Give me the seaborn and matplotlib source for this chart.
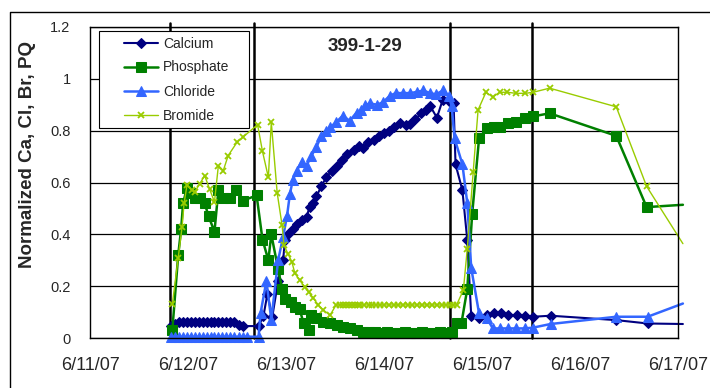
import matplotlib
matplotlib.use("Agg")
import matplotlib.pyplot as plt
import seaborn as sns
import pandas as pd
from matplotlib.lines import Line2D
from matplotlib.patches import Rectangle

# ---- data (days since 6/11/07 00:00, normalized values) ----
ca_t = [0.83,0.87,0.91,0.95,0.99,1.03,1.07,1.11,1.15,1.19,1.23,1.27,1.31,1.35,1.39,1.43,1.47,1.52,1.56,1.72,
        1.77,1.81,1.86,1.92,1.97,1.99,2.02,2.07,2.11,2.16,2.21,2.24,2.28,2.31,2.36,2.41,2.47,2.52,2.57,2.62,
        2.69,2.74,2.79,2.84,2.90,2.95,3.00,3.05,3.10,3.16,3.22,3.27,3.32,3.38,3.43,3.47,3.54,3.60,3.66,3.71,
        3.73,3.80,3.85,3.89,3.97,4.05,4.12,4.19,4.27,4.36,4.44,4.52,4.70,5.37,5.69,6.05]
ca_v = [0.047,0.055,0.062,0.063,0.062,0.063,0.062,0.063,0.062,0.063,0.062,0.063,0.062,0.063,0.062,0.063,0.060,0.052,0.046,0.046,
        0.085,0.17,0.082,0.22,0.30,0.377,0.40,0.42,0.44,0.456,0.467,0.505,0.52,0.546,0.585,0.62,0.646,0.665,0.685,0.71,
        0.725,0.74,0.735,0.755,0.765,0.78,0.79,0.80,0.815,0.83,0.82,0.826,0.845,0.867,0.88,0.896,0.85,0.92,0.915,0.905,
        0.67,0.57,0.377,0.085,0.076,0.088,0.097,0.095,0.088,0.088,0.085,0.082,0.086,0.069,0.056,0.054]

ph_t = [0.84,0.90,0.93,0.95,0.99,1.02,1.07,1.12,1.17,1.21,1.27,1.31,1.36,1.43,1.49,1.56,1.70,1.76,1.82,1.85,
        1.92,1.96,1.99,2.05,2.09,2.14,2.18,2.23,2.26,2.31,2.38,2.45,2.52,2.58,2.65,2.72,2.79,2.85,2.91,2.97,
        3.03,3.09,3.15,3.21,3.27,3.33,3.39,3.45,3.51,3.57,3.63,3.69,3.74,3.79,3.85,3.90,3.97,4.05,4.12,4.18,
        4.27,4.35,4.44,4.52,4.69,5.37,5.68,6.05]
ph_v = [0.03,0.32,0.42,0.52,0.58,0.56,0.54,0.54,0.52,0.47,0.41,0.57,0.54,0.54,0.57,0.53,0.55,0.38,0.30,0.40,
        0.265,0.19,0.15,0.14,0.12,0.11,0.056,0.03,0.09,0.076,0.063,0.057,0.05,0.043,0.037,0.03,0.024,0.022,0.024,0.02,
        0.022,0.02,0.02,0.022,0.02,0.02,0.022,0.02,0.02,0.022,0.02,0.022,0.057,0.057,0.19,0.48,0.77,0.81,0.815,0.815,
        0.83,0.835,0.85,0.855,0.867,0.78,0.505,0.514]

cl_t = [0.83,0.87,0.91,0.95,0.99,1.03,1.07,1.11,1.15,1.19,1.23,1.27,1.31,1.35,1.39,1.43,1.47,1.52,1.56,1.60,
        1.72,1.74,1.80,1.85,1.92,1.97,2.01,2.04,2.07,2.11,2.16,2.21,2.26,2.31,2.36,2.41,2.45,2.51,2.58,2.65,
        2.72,2.77,2.81,2.86,2.93,2.99,3.06,3.12,3.19,3.27,3.34,3.40,3.47,3.53,3.60,3.66,3.69,3.72,3.80,3.85,
        3.89,3.97,4.05,4.11,4.18,4.27,4.35,4.44,4.52,4.70,5.37,5.69,6.05]
cl_v = [0.003,0.005,0.004,0.005,0.004,0.005,0.004,0.005,0.004,0.005,0.004,0.005,0.004,0.005,0.004,0.005,0.004,0.005,0.004,0.005,
        0.005,0.095,0.22,0.07,0.30,0.39,0.47,0.556,0.61,0.646,0.68,0.665,0.704,0.736,0.78,0.80,0.813,0.832,0.858,0.838,
        0.87,0.88,0.90,0.905,0.90,0.91,0.935,0.945,0.945,0.945,0.95,0.955,0.945,0.94,0.955,0.935,0.896,0.77,0.67,0.52,
        0.27,0.095,0.076,0.037,0.037,0.037,0.037,0.037,0.04,0.054,0.082,0.082,0.133]

br_t = [0.84,0.90,0.94,0.96,0.99,1.04,1.07,1.12,1.17,1.22,1.27,1.31,1.36,1.41,1.50,1.56,1.71,1.76,1.82,1.85,
        1.91,1.96,1.98,2.02,2.06,2.09,2.14,2.19,2.23,2.28,2.33,2.38,2.45,2.51,2.55,2.58,2.61,2.64,2.67,2.70,
        2.73,2.76,2.80,2.85,2.88,2.92,2.96,3.00,3.05,3.10,3.14,3.19,3.24,3.29,3.34,3.39,3.44,3.49,3.54,3.59,
        3.63,3.67,3.70,3.74,3.81,3.85,3.91,3.96,4.04,4.11,4.18,4.26,4.35,4.44,4.52,4.69,5.37,5.68,6.05]
br_v = [0.13,0.31,0.43,0.52,0.59,0.57,0.565,0.595,0.627,0.575,0.525,0.665,0.646,0.704,0.755,0.775,0.823,0.72,0.62,0.832,
        0.56,0.435,0.357,0.325,0.294,0.25,0.223,0.197,0.178,0.153,0.127,0.108,0.088,0.127,0.128,0.127,0.128,0.127,0.128,0.127,
        0.128,0.127,0.128,0.127,0.128,0.127,0.128,0.127,0.128,0.127,0.128,0.127,0.128,0.127,0.128,0.127,0.128,0.127,0.128,0.127,
        0.128,0.127,0.128,0.127,0.185,0.345,0.64,0.88,0.948,0.93,0.948,0.948,0.944,0.944,0.948,0.964,0.892,0.585,0.364]

event_days = [0.816, 1.673, 3.673, 4.51]
tick_labels = ["6/11/07", "6/12/07", "6/13/07", "6/14/07", "6/15/07", "6/16/07", "6/17/07"]
y_ticks = [0, 0.2, 0.4, 0.6, 0.8, 1.0, 1.2]
y_tick_labels = ["0", "0.2", "0.4", "0.6", "0.8", "1", "1.2"]
title = "399-1-29"
ylabel = "Normalized Ca, Cl, Br, PQ"

series = [
    ("Calcium", ca_t, ca_v, dict(color="#000080", marker="D", markersize=5, linewidth=1.5)),
    ("Phosphate", ph_t, ph_v, dict(color="#008000", marker="s", markersize=6.5, linewidth=1.8)),
    ("Chloride", cl_t, cl_v, dict(color="#3366FF", marker="^", markersize=6.5, linewidth=1.8)),
    ("Bromide", br_t, br_v, dict(color="#99CC00", marker="x", markersize=4.5, linewidth=1.0, markeredgewidth=1.3)),
]

sns.set_style("white")
plt.rcParams["font.family"] = ["Liberation Sans", "DejaVu Sans"]

W, H = 710, 388
fig = plt.figure(figsize=(W / 100, H / 100), dpi=100)
ax = fig.add_axes([90 / W, 1 - 338 / H, (678 - 90) / W, (338 - 27) / H])

for name, t, v, st in series:
    assert len(t) == len(v), name
    df = pd.DataFrame({"t": t, "v": v})
    sns.lineplot(data=df, x="t", y="v", ax=ax, estimator=None, sort=False, label=name,
                 markeredgecolor=st["color"], clip_on=False, markevery=list(range(len(t) - 1)), **st)

ax.set_xlim(0, 6)
ax.set_ylim(0, 1.2)
ax.set_xticks(range(7))
ax.set_xticklabels(tick_labels, fontsize=13)
ax.set_yticks(y_ticks)
ax.set_yticklabels(y_tick_labels, fontsize=10.5)
ax.tick_params(axis="x", direction="out", length=5, width=1, color="black", pad=9)
ax.tick_params(axis="y", direction="out", length=5, width=1, color="black", pad=9)
ax.set_xlabel("")
ax.set_ylabel("")
ax.yaxis.grid(True, color="black", linewidth=0.9)
ax.xaxis.grid(False)
for s in ax.spines.values():
    s.set_color("black")
    s.set_linewidth(1.0)

for d in event_days:
    ax.axvline(d, ymin=0, ymax=(338 - 23) / (338 - 27), color="black", linewidth=1.8, clip_on=False, zorder=1.5)

ax.text(365 / W, 1 - 46.5 / H, title, transform=fig.transFigure, ha="center", va="center",
        fontsize=13.5, fontweight="bold")
fig.text(28 / W, 1 - 154.5 / H, ylabel, rotation=90, ha="center", va="center", fontsize=13.5, fontweight="bold")

# legend box drawn separately so the entries can sit inset like the original
ax.add_patch(Rectangle((99 / W, 1 - 128 / H), 150 / W, 97 / H, transform=fig.transFigure,
                       facecolor="white", edgecolor="black", linewidth=0.8, zorder=4, clip_on=False))
leg = ax.legend(loc="upper left", bbox_to_anchor=(124 / W, 1 - 36.5 / H), bbox_transform=fig.transFigure,
                borderaxespad=0, borderpad=0, fontsize=10, frameon=False, handlelength=2.45,
                labelspacing=0.72, handletextpad=0.38)
leg.set_zorder(5)

# outer chart-area border (top and left edges visible)
fig.add_artist(Line2D([10 / W, 10 / W, 1.0], [0, 1 - 12 / H, 1 - 12 / H], transform=fig.transFigure,
                      color="black", linewidth=1.0))

fig.savefig("out.png", dpi=100)
